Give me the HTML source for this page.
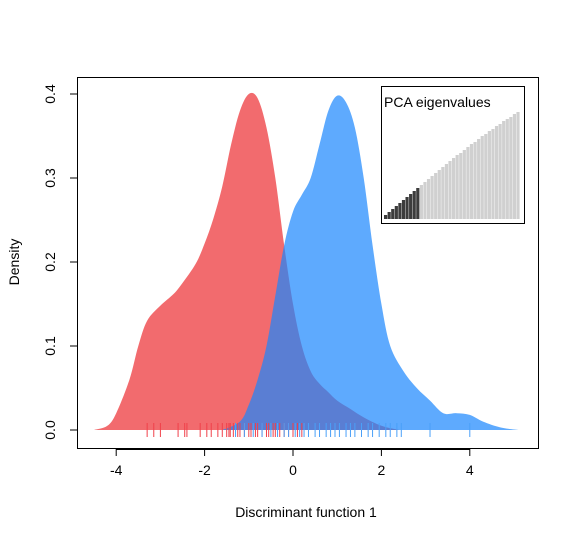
<!DOCTYPE html>
<html><head><meta charset="utf-8"><style>
html,body{margin:0;padding:0;background:#fff;}
svg{display:block;font-family:"Liberation Sans",Arial,sans-serif;}
</style></head><body>
<svg id="chart" width="577" height="541" viewBox="0 0 577 541"></svg>
<script>
const redX=[-4.5,-4.2,-4,-3.7,-3.5,-3.3,-3,-2.7,-2.5,-2.2,-2,-1.8,-1.6,-1.4,-1.2,-1,-0.8,-0.6,-0.4,-0.2,0,0.2,0.4,0.6,0.8,1,1.3,1.6,2,2.4];
const redY=[0,0.005,0.02,0.06,0.1,0.13,0.148,0.162,0.175,0.198,0.222,0.252,0.29,0.34,0.38,0.40,0.395,0.36,0.30,0.22,0.15,0.1,0.07,0.055,0.045,0.035,0.025,0.015,0.005,0];
const blueX=[-1.6,-1.2,-1,-0.8,-0.6,-0.4,-0.2,0,0.2,0.4,0.6,0.8,1,1.2,1.4,1.6,1.8,2,2.2,2.5,2.8,3.1,3.4,3.7,4,4.3,4.7,5.1];
const blueY=[0,0.01,0.03,0.06,0.1,0.16,0.22,0.26,0.28,0.3,0.34,0.38,0.398,0.39,0.36,0.3,0.22,0.15,0.1,0.07,0.05,0.035,0.02,0.02,0.018,0.01,0.003,0];
const redRug=[-3.3,-3.15,-3.0,-2.6,-2.45,-2.4,-2.1,-1.95,-1.85,-1.7,-1.6,-1.5,-1.45,-1.42,-1.35,-1.25,-1.2,-1.1,-1.0,-0.95,-0.85,-0.8,-0.7,-0.6,-0.55,-0.45,-0.4,-0.3,-0.2,-0.1,0.0,0.1,0.2];
const blueRug=[-1.3,-1.1,-0.9,-0.7,-0.5,-0.35,-0.2,-0.1,0.05,0.15,0.25,0.35,0.5,0.6,0.75,0.85,0.95,1.05,1.2,1.3,1.4,1.55,1.7,1.8,1.95,2.1,2.2,2.35,2.45,3.1,4.0];
const xTicks=[-4,-2,0,2,4];
const yTicks=[0,0.1,0.2,0.3,0.4];
const eigen=[4,7,10,13,16,19,22,25,28,31,34,37,40,43,46,49,52,55,58,61,64,66,69,72,75,77,80,83,85,88,90,93,95,98,100,102,105,107];
const nDark=10;

const NS='http://www.w3.org/2000/svg';
const svg=document.getElementById('chart');
const sx=v=>293+v*44.2, sy=v=>430-v*840;
function mk(t,a,p){const e=document.createElementNS(NS,t);for(const k in a)e.setAttribute(k,a[k]);(p||svg).appendChild(e);return e;}
function area(xs,ys){
  const P=xs.map((x,i)=>[sx(x),sy(ys[i])]);
  let d='M'+P[0][0]+','+P[0][1];
  for(let i=0;i<P.length-1;i++){
    const p0=P[Math.max(i-1,0)],p1=P[i],p2=P[i+1],p3=P[Math.min(i+2,P.length-1)];
    const c1=[p1[0]+(p2[0]-p0[0])/6,Math.min(430,p1[1]+(p2[1]-p0[1])/6)];
    const c2=[p2[0]-(p3[0]-p1[0])/6,Math.min(430,p2[1]-(p3[1]-p1[1])/6)];
    d+='C'+c1+' '+c2+' '+p2;
  }
  return d+'Z';
}

const red=mk('path',{d:area(redX,redY),fill:'#f26b6e'});


const blue=mk('path',{d:area(blueX,blueY),fill:'rgba(25,134,254,0.7)'});



redRug.forEach(v=>{const l=mk('line',{x1:sx(v),x2:sx(v),y1:423,y2:437,stroke:'#f0404a','stroke-width':1});

});
blueRug.forEach(v=>{const l=mk('line',{x1:sx(v),x2:sx(v),y1:423,y2:437,stroke:'#4aa0f8','stroke-width':1});

});

const box=mk('rect',{x:77.5,y:77.5,width:461,height:371,fill:'none',stroke:'#000'});



mk('line',{x1:sx(-4),x2:sx(4),y1:449.5,y2:449.5,stroke:'#000'});
xTicks.forEach(v=>{mk('line',{x1:sx(v),x2:sx(v),y1:449,y2:456,stroke:'#000'});
const t=mk('text',{x:sx(v),y:475,'text-anchor':'middle','font-size':14});t.textContent=v<0?'-'+Math.abs(v):v;

});
mk('line',{x1:77.5,x2:77.5,y1:sy(0),y2:sy(0.4),stroke:'#000'});
yTicks.forEach(v=>{mk('line',{x1:70,x2:77,y1:sy(v),y2:sy(v),stroke:'#000'});
const t=mk('text',{x:55,y:sy(v),'text-anchor':'middle','font-size':14,transform:`rotate(-90 55 ${sy(v)})`});t.textContent=v.toFixed(1);

});

const xt=mk('text',{x:306,y:517,'text-anchor':'middle','font-size':14});xt.textContent='Discriminant function 1';


const yt=mk('text',{x:19,y:262,'text-anchor':'middle','font-size':14,transform:'rotate(-90 19 262)'});yt.textContent='Density';



const ib=mk('rect',{x:381.5,y:86.5,width:143,height:137,fill:'#fff',stroke:'#000'});


const bw=136/eigen.length;
eigen.forEach((h,i)=>{const r=mk('rect',{x:384+i*bw,y:219-h,width:bw-0.4,height:h,fill:i<nDark?'#3c3c3c':'#d0d0d0'});

});
const it=mk('text',{x:384,y:107,'font-size':14});it.textContent='PCA eigenvalues';


</script>
</body></html>
